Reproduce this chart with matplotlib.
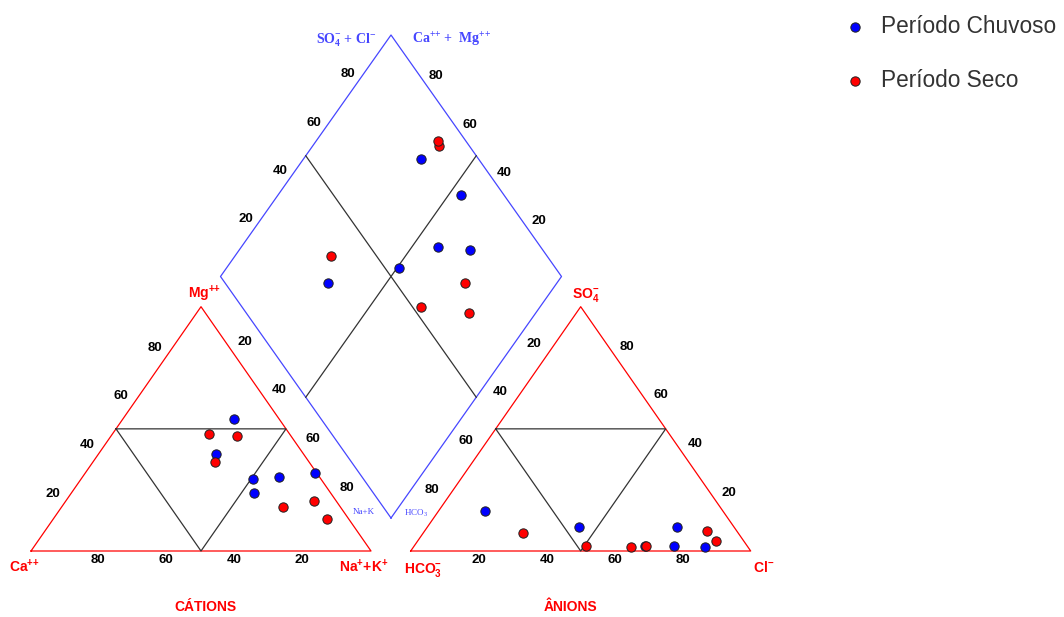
import matplotlib.pyplot as plt

plt.rcParams['font.family'] = ['Liberation Sans', 'DejaVu Sans']
plt.rcParams['mathtext.default'] = 'regular'

# Cation / anion composition (% meq) for each sample
chuvoso_mg = [39.8, 23.9, 30.2, 32.0, 29.5, 53.9]
chuvoso_nak = [34.5, 53.7, 57.8, 67.6, 50.6, 32.7]
chuvoso_so4 = [9.7, 1.6, 2.0, 2.0, 9.7, 16.5]
chuvoso_cl = [73.4, 85.8, 68.0, 76.5, 44.6, 13.7]

seco_mg = [47.8, 47.2, 36.4, 18.0, 20.5, 13.2]
seco_nak = [28.4, 37.0, 35.8, 65.2, 72.9, 80.5]
seco_so4 = [7.4, 8.3, 4.1, 2.0, 2.0, 1.6]
seco_cl = [29.3, 82.9, 87.8, 50.6, 68.3, 63.9]

tick_vals = [20, 40, 60, 80]

# Geometry in pixel units
SIDE = 340.0
H = 244.3
Y0 = 551.0
XL = 31.0      # left corner of cation triangle
XR = 410.7     # left corner of anion triangle
B = (391.0, 518.0)
R = (561.5, 276.5)
L = (220.5, 276.5)
T = (391.0, 35.0)

RED = '#ff0000'
BLUE = '#4646ff'
DARK = '#333333'
PP = '{+}{+}'


def cat_xy(mg, nak):
    return XL + SIDE * (nak + mg / 2) / 100, Y0 - H * mg / 100


def an_xy(so4, cl):
    return XR + SIDE * (cl + so4 / 2) / 100, Y0 - H * so4 / 100


def dia_xy(a, c):
    x = B[0] + a / 100 * (R[0] - B[0]) + c / 100 * (L[0] - B[0])
    y = B[1] + a / 100 * (R[1] - B[1]) + c / 100 * (L[1] - B[1])
    return x, y


fig = plt.figure(figsize=(10.64, 6.17), dpi=100)
ax = fig.add_axes([0, 0, 1, 1])
ax.set_xlim(0, 1064)
ax.set_ylim(617, 0)
ax.axis('off')

# Diamond
ax.plot([B[0], R[0], T[0], L[0], B[0]], [B[1], R[1], T[1], L[1], B[1]],
        color=BLUE, lw=0.9)
for p, q in [((50, 0), (50, 100)), ((0, 50), (100, 50))]:
    x1, y1 = dia_xy(*p)
    x2, y2 = dia_xy(*q)
    ax.plot([x1, x2], [y1, y2], color=DARK, lw=0.9)

# Triangles
for fxy in (cat_xy, an_xy):
    pts = [fxy(0, 0), fxy(0, 100), fxy(100, 0), fxy(0, 0)]
    ax.plot([p[0] for p in pts], [p[1] for p in pts], color=RED, lw=0.9)
    inner = [fxy(50, 0), fxy(50, 50), fxy(0, 50), fxy(50, 0)]
    ax.plot([p[0] for p in inner], [p[1] for p in inner], color=DARK, lw=0.9)

# Tick labels
tk = dict(ha='center', va='center', fontsize=9.5, fontweight='bold', color='black')
for v in tick_vals:
    s = str(v)
    x, y = cat_xy(0, 100 - v)
    ax.text(x - 1, y + 9, s, **tk)
    x, y = cat_xy(v, 0)
    ax.text(x - 12, y - 8, s, **tk)
    x, y = cat_xy(100 - v, v)
    ax.text(x + 10, y - 14, s, **tk)
    x, y = an_xy(0, v)
    ax.text(x, y + 9, s, **tk)
    x, y = an_xy(v, 100 - v)
    ax.text(x + 12, y - 9, s, **tk)
    x, y = an_xy(100 - v, 0)
    ax.text(x - 12.5, y - 12, s, **tk)
    x, y = dia_xy(v, 100)
    ax.text(x - 9, y - 9, s, **tk)
    x, y = dia_xy(100, v)
    ax.text(x + 11, y - 7, s, **tk)

# Vertex and axis labels
lb = dict(ha='center', va='center', fontsize=10, fontweight='bold', color=RED)
ax.text(205, 294, 'Mg$^{%s}$' % PP, **lb)
ax.text(24, 567, 'Ca$^{%s}$' % PP, **lb)
ax.text(364, 567, 'Na$^{+}$+K$^{+}$', **lb)
ax.text(586, 295, 'SO$_{4}^{-}$', **lb)
ax.text(423, 570, 'HCO$_{3}^{-}$', **lb)
ax.text(764, 567, 'Cl$^{-}$', **lb)
ax.text(205, 607, 'CÁTIONS', **lb)
ax.text(570, 607, 'ÂNIONS', **lb)

sf = dict(ha='center', va='center', color=BLUE, family=['Liberation Serif', 'DejaVu Serif'])
ax.text(346, 40, 'SO$_{4}^{-}$ + Cl$^{-}$', fontsize=10, fontweight='bold', **sf)
ax.text(452, 40, 'Ca$^{%s}$ +  Mg$^{%s}$' % (PP, PP), fontsize=10, fontweight='bold', **sf)
ax.text(364, 512, 'Na+K', fontsize=6.5, **sf)
ax.text(416, 513, 'HCO$_{3}$', fontsize=6.5, **sf)

# Points
series = [
    ("Período Chuvoso", '#0000ff', chuvoso_mg, chuvoso_nak, chuvoso_so4, chuvoso_cl),
    ("Período Seco", '#ff0000', seco_mg, seco_nak, seco_so4, seco_cl),
]
handles = []
for name, col, mg, nak, so4, cl in series:
    cx, cy = zip(*[cat_xy(m, n) for m, n in zip(mg, nak)])
    axx, ayy = zip(*[an_xy(s, c) for s, c in zip(so4, cl)])
    dx, dy = zip(*[dia_xy(s + c, 100 - n) for s, c, n in zip(so4, cl, nak)])
    kw = dict(s=45, color=col, edgecolors='#202020', linewidths=0.7, zorder=3)
    h = ax.scatter(cx, cy, label=name, **kw)
    ax.scatter(axx, ayy, **kw)
    ax.scatter(dx, dy, **kw)
    handles.append(h)

leg = ax.legend(handles=handles, loc='upper left', bbox_to_anchor=(0.781, 1.0),
                frameon=False, fontsize=16.3, labelspacing=1.37, handlelength=0.8,
                handletextpad=0.75, scatterpoints=1, markerscale=1.0,
                borderaxespad=0.25)
for t in leg.get_texts():
    t.set_color('#333333')

fig.savefig('out.png', dpi=100)
